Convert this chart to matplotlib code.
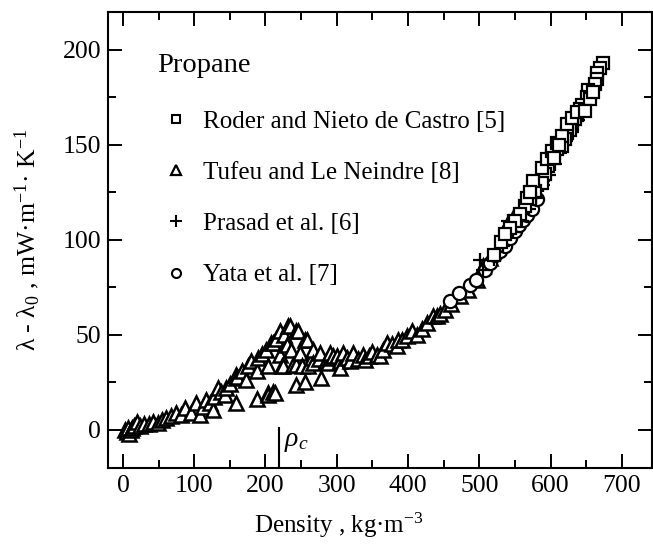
import matplotlib
matplotlib.use("Agg")
import matplotlib.pyplot as plt
from matplotlib.lines import Line2D
from matplotlib.ticker import MultipleLocator

plt.rcParams["font.family"] = ["Liberation Serif", "DejaVu Serif"]
plt.rcParams["mathtext.fontset"] = "custom"
plt.rcParams["mathtext.rm"] = "Liberation Serif"
plt.rcParams["mathtext.it"] = "Liberation Serif:italic"

# Roder and Nieto de Castro [5]
roder_rho = [673, 669.5, 665.7, 664.9, 662.5, 653, 650.8, 643.8, 641, 636.8, 634, 629.8,
             627, 622.8, 620.4, 615.7, 608.7, 601.7, 597, 592.3, 587.6, 578.2, 571.2,
             564.2, 557.2, 550, 543, 575.8, 587.6, 594.7, 601.7, 608.7, 615.7, 622.8,
             629.8, 636.8, 566.6, 571, 520, 530, 536, 655, 660, 648, 612, 605]
roder_lam = [193.4, 190.7, 188, 184.9, 182, 179, 175, 171, 168.7, 166, 163.5, 160.8,
             158, 156.4, 152.9, 149.4, 147.6, 144, 138.8, 134.5, 130, 125.6, 121.3,
             117.7, 113.4, 109.8, 106.4, 130.9, 138, 142.4, 146.7, 151.2, 154.7, 160.8,
             164.4, 167.3, 122.2, 125, 92, 99, 103, 174, 178, 168, 150, 143]

# Tufeu and Le Neindre [8]
tufeu_rho = [3, 5, 7, 9, 11, 13, 16, 20, 24, 30, 36, 42, 49, 55, 61, 68, 75, 82, 86.7, 96,
             103, 107.7, 112, 117, 122, 126.4, 128, 133.4, 138, 142.8, 145, 150, 158, 159,
             159, 160, 167, 173.3, 175.6, 180, 187.4, 187.4, 189.6, 195, 201.4, 203.7,
             203.7, 203.7, 208.4, 210.7, 210.7, 213, 215, 220, 220, 222.5, 224.7, 226,
             229.5, 231.7, 234, 236.5, 238.8, 243.5, 243.5, 243.5, 245.8, 248.2, 250.6,
             255.2, 255.2, 257.6, 259.8, 265, 266.9, 266.9, 275, 276.3, 278.6, 285, 288,
             290.3, 290.3, 295, 300, 304.4, 304.4, 309, 315, 318.4, 323, 330, 337, 339.5,
             345, 350, 356, 360.5, 365, 370, 378, 384, 386, 392, 398, 405, 412, 420, 426,
             435.4, 440, 445, 451.8, 460, 473, 484.6, 496.3, 505.6, 515, 533.7, 540.7,
             547.8]
tufeu_lam = [0, -1, 1, -2, 0, 1, 2, 4, 2, 3, 3, 4, 3.5, 5, 6.2, 7, 8.8, 8, 11.4, 8.8,
             14, 7.9, 12, 15.8, 14, 10.5, 17, 22, 20, 18.5, 22, 24, 27, 29,
             14, 28, 31, 26.4, 33.4, 36, 30.7, 16.2, 37.8, 40, 42.2, 19.4,
             33.4, 18.5, 45.7, 19.7, 45.7, 19.4, 48, 51.8, 39.5, 33.4, 33.4, 50,
             44.8, 54.5, 54.5, 42.2, 34.3, 51.8, 23.7, 34.3, 51.8, 40.4, 33.4,
             24.9, 47.5, 47.5, 33.4, 38, 42.2, 35.2, 37, 40.4, 27.3, 36, 35.2,
             37.8, 40.4, 38.7, 39, 36, 32.5, 40.4, 38, 36, 40.4, 37, 39.5, 36.9,
             39, 41, 39.5, 38.7, 42, 45.7, 45, 43.9, 47.5, 47, 49.2, 51.8, 50, 53, 56.3,
             59.7, 59.7, 61, 63.3, 66, 70.3, 73.8, 79, 86.1, 90.5, 103.7, 109,
             111.6]

# Prasad et al. [6]
prasad_rho = [501, 505, 520, 533, 540, 548, 560, 570, 580, 590, 598, 606, 614, 622, 630,
              638, 646, 654, 662]
prasad_lam = [89.6, 84, 90, 97, 110, 104, 110, 116, 122, 129, 134, 140, 146, 152, 157,
              163, 169, 174, 180]

# Yata et al. [7]
yata_rho = [459, 472, 487, 496, 508, 515, 522, 529, 536, 543, 550, 556, 561.8, 567,
            573.6, 580.6]
yata_lam = [67.6, 72, 76, 79, 84, 88, 92, 94, 97, 101, 104.6, 108, 110.7, 113,
            116.4, 121.3]

rho_c = 218.5

labels = ["Roder and Nieto de Castro [5]", "Tufeu and Le Neindre [8]",
          "Prasad et al. [6]", "Yata et al. [7]"]

fig = plt.figure(figsize=(6.53, 5.47), dpi=100)
ax = fig.add_axes([108 / 653, 1 - 467.7 / 547, (651.7 - 108) / 653, (467.7 - 12) / 547])

mk = dict(linestyle="none", color="black", markerfacecolor="white")
ax.plot(tufeu_rho, tufeu_lam, marker="^", markersize=10.5, markeredgewidth=1.8, **mk)
ax.plot(yata_rho, yata_lam, marker="o", markersize=9.5, markeredgewidth=1.6, **mk)
ax.plot(prasad_rho, prasad_lam, marker="+", markersize=10, markeredgewidth=1.6,
        linestyle="none", color="black")
ax.plot(roder_rho, roder_lam, marker="s", markersize=8.3, markeredgewidth=1.6, **mk)

# critical density marker
ax.plot([rho_c, rho_c], [1, -20], color="black", linewidth=1.5)
ax.text(rho_c + 8, -6, r"$\rho_c$", fontsize=20, ha="left", va="center")

ax.set_xlim(-21, 742)
ax.set_ylim(-20, 220)
ax.xaxis.set_major_locator(MultipleLocator(100))
ax.xaxis.set_minor_locator(MultipleLocator(50))
ax.yaxis.set_major_locator(MultipleLocator(50))
ax.yaxis.set_minor_locator(MultipleLocator(25))
ax.tick_params(which="both", direction="in", top=True, right=True, width=1.4,
               labelsize=18.5, pad=5)
ax.tick_params(which="major", length=10)
ax.tick_params(which="minor", length=5.5)
for s in ax.spines.values():
    s.set_linewidth(1.5)

ax.set_xlabel("Density , kg·m$^{-3}$", fontsize=18)
ax.set_ylabel("λ - λ$_0$ , mW·m$^{-1}$· K$^{-1}$", fontsize=18.5)
ax.xaxis.set_label_coords(0.425, -0.095)
ax.yaxis.set_label_coords(-0.122, 0.5)

ax.text(157 / 653, 1 - 66 / 547, "Propane", transform=fig.transFigure, fontsize=20.5,
        ha="left", va="center")

handles = [
    Line2D([], [], marker="s", markersize=6, markeredgewidth=1.5, **mk),
    Line2D([], [], marker="^", markersize=7, markeredgewidth=1.6, **mk),
    Line2D([], [], marker="+", markersize=9, markeredgewidth=1.5, linestyle="none", color="black"),
    Line2D([], [], marker="o", markersize=6.5, markeredgewidth=1.5, **mk),
]
leg = ax.legend(handles, labels, loc="upper left", bbox_to_anchor=(163 / 653, 1 - 110 / 547),
                bbox_transform=fig.transFigure, frameon=False, fontsize=18,
                handlelength=1.0, handletextpad=0.6, labelspacing=1.15, borderpad=0,
                borderaxespad=0)

fig.savefig("out.png", dpi=100)
